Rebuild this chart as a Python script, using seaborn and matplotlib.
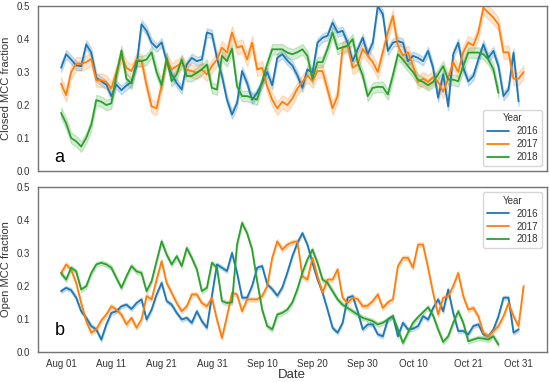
import numpy as np
import pandas as pd
import matplotlib
matplotlib.use("Agg")
import matplotlib.pyplot as plt
import seaborn as sns

nan = np.nan

# one value per day, Aug 01 .. Nov 01 (93 days)
dates = pd.date_range("2018-08-01", "2018-11-01", freq="D")
years = ["2016", "2017", "2018"]

closed_2016 = [
    .313, .354, .338, .320, .318, .384, .359, .283, .272, .262,
    .227, .262, .245, .259, .270, .318, .445, .425, .389, .374,
    .390, .333, .293, .267, .247, .323, .343, .333, .338, .420,
    .415, .343, .288, .216, .171, .206, .303, .267, .216, .237,
    .267, .300, .260, .343, .354, .335, .320, .290, .252, .308,
    .298, .389, .404, .410, .450, .420, .425, .389, .333, .369,
    .404, .354, .389, .500, .476, .364, .389, .394, .389, .333,
    .349, .343, .333, .364, .313, .222, .293, .196, .354, .389,
    .313, .272, .288, .338, .384, .343, .364, .318, .227, .247,
    .359, .211, nan]
closed_2017 = [
    .265, .230, .300, .325, .325, .330, .340, .275, .275, .270,
    .250, .300, .350, .313, .303, .338, .335, .260, .196, .190,
    .260, .338, .308, .318, .328, .308, .303, .298, .308, .293,
    .318, .338, .374, .359, .420, .374, .379, .338, .389, .308,
    .313, .257, .216, .190, .210, .200, .220, .250, .270, .290,
    .272, .303, .303, .247, .190, .227, .374, .379, .313, .323,
    .370, .350, .330, .300, .360, .420, .470, .380, .350, .360,
    .320, .270, .280, .270, .285, .270, .240, .280, .330, .300,
    .360, .390, .380, .420, .495, .480, .465, .445, .360, .360,
    .280, .280, .300]
closed_2018 = [
    .176, .145, .100, .090, .074, .100, .140, .215, .210, .200,
    .205, .290, .365, .280, .265, .333, .333, .338, .360, .300,
    .260, .343, .272, .293, .338, .288, .288, .298, .308, .323,
    .252, .247, .349, .333, .371, .257, .227, .227, .222, .216,
    .272, .323, .369, .369, .369, .359, .354, .360, .369, .349,
    .280, .330, .330, .370, .420, .370, .375, .380, .400, .330,
    .290, .227, .252, .255, .255, .232, .290, .354, .338, .318,
    .300, .277, .270, .260, .270, .293, .318, .277, .277, .272,
    .318, .359, .359, .359, .354, .338, .308, .237, nan, nan,
    nan, nan, nan]

open_2016 = [
    .184, .194, .187, .164, .123, .103, .078, .068, .037, .083,
    .118, .123, .138, .143, .130, .148, .159, .098, .128, .174,
    .209, .154, .143, .118, .098, .103, .088, .123, .093, .073,
    .170, .265, .255, .245, .300, .240, .164, .164, .200, .255,
    .260, .205, .190, .170, .195, .240, .290, .330, .360, .325,
    .270, .220, .180, .128, .073, .058, .088, .164, .169, .123,
    .068, .083, .083, .053, .047, .098, .108, .047, .088, .068,
    .070, .078, .108, .098, .133, .159, .123, .189, .118, .063,
    .063, .053, .078, .083, .053, .047, .068, .108, .164, .164,
    .058, .068, nan]
open_2017 = [
    .239, .265, .249, .209, .148, .093, .058, .068, .095, .113,
    .138, .128, .113, .083, .103, .073, .098, .169, .159, .219,
    .275, .209, .179, .148, .123, .138, .174, .174, .148, .138,
    .164, .098, .042, .108, .179, .174, .123, .159, .159, .159,
    .169, .199, .285, .335, .310, .325, .332, .335, .229, .219,
    .285, .229, .179, .219, .219, .250, .164, .148, .164, .160,
    .138, .140, .154, .174, .133, .150, .159, .260, .285, .285,
    .255, .325, .325, .255, .179, .113, .164, .169, .199, .239,
    .169, .128, .133, .108, .058, .047, .063, .078, .108, .148,
    .108, .078, .199]
open_2018 = [
    .239, .219, .255, .244, .189, .199, .239, .265, .270, .265,
    .255, .224, .194, .229, .260, .244, .239, .184, .214, .275,
    .335, .295, .265, .290, .260, .315, .285, .250, .184, .194,
    .270, .255, .154, .148, .150, .325, .391, .360, .310, .214,
    .128, .078, .068, .113, .118, .128, .150, .190, .240, .280,
    .310, .270, .219, .209, .184, .159, .143, .133, .123, .113,
    .103, .098, .093, .083, .088, .098, .108, .068, .027, .058,
    .088, .105, .120, .135, .110, .068, .030, .047, .088, .123,
    .088, .032, .037, .042, .040, .037, .047, .022, nan, nan,
    nan, nan, nan]

# half width of the shaded confidence band per year
closed_spread = {"2016": 0.013, "2017": 0.02, "2018": 0.016}
open_spread = {"2016": 0.006, "2017": 0.007, "2018": 0.007}

tick_dates = ["2018-08-01", "2018-08-11", "2018-08-21", "2018-08-31", "2018-09-10",
              "2018-09-20", "2018-09-30", "2018-10-10", "2018-10-21", "2018-10-31"]
tick_labels = ["Aug 01", "Aug 11", "Aug 21", "Aug 31", "Sep 10",
               "Sep 20", "Sep 30", "Oct 10", "Oct 21", "Oct 31"]

palette = {"2016": "#1f77b4", "2017": "#ff7f0e", "2018": "#2ca02c"}


def long_frame(series, spread):
    """Two rows per day (mean -/+ spread) so the band comes from the pi errorbar"""
    rows = []
    for year, vals in zip(years, series):
        for d, v in zip(dates, vals):
            if np.isnan(v):
                continue
            rows.append((d, year, v - spread[year]))
            rows.append((d, year, v + spread[year]))
    return pd.DataFrame(rows, columns=["Date", "Year", "frac"])


closed_df = long_frame([closed_2016, closed_2017, closed_2018], closed_spread)
open_df = long_frame([open_2016, open_2017, open_2018], open_spread)

sns.set_style("white")
plt.rcParams["font.family"] = ["Liberation Sans", "DejaVu Sans"]
plt.rcParams["axes.edgecolor"] = "0.45"
plt.rcParams["text.color"] = "0.2"
plt.rcParams["axes.labelcolor"] = "0.2"
plt.rcParams["xtick.color"] = "0.2"
plt.rcParams["ytick.color"] = "0.2"

fig, (ax1, ax2) = plt.subplots(2, 1, figsize=(5.5, 3.82), dpi=100, sharex=True)
fig.subplots_adjust(left=0.069, right=0.994, top=0.984, bottom=0.079, hspace=0.097)

for ax, df, ylabel, letter, loc, ly in [
        (ax1, closed_df, "Closed MCC fraction", "a", "lower right", 0.055),
        (ax2, open_df, "Open MCC fraction", "b", "upper right", 0.10)]:
    sns.lineplot(data=df, x="Date", y="frac", hue="Year", palette=palette,
                 errorbar=("pi", 100), linewidth=1.3, ax=ax)
    ax.set_ylim(0, 0.5)
    ax.set_yticks(np.arange(0, 0.51, 0.1))
    ax.set_yticklabels([f"{t:.1f}" for t in np.arange(0, 0.51, 0.1)])
    ax.set_ylabel(ylabel, fontsize=8, labelpad=4)
    ax.tick_params(axis="y", labelsize=7, pad=2.5)
    ax.tick_params(axis="x", labelsize=7, pad=1.5)
    for s in ax.spines.values():
        s.set_linewidth(1.0)
    ax.text(0.033, ly, letter, transform=ax.transAxes, fontsize=13,
            ha="left", va="baseline", color="black")
    sns.move_legend(ax, loc, title="Year", fontsize=7, title_fontsize=7,
                    frameon=True, borderpad=0.4, labelspacing=0.3,
                    handlelength=2.2)

ax2.set_xticks(pd.to_datetime(tick_dates))
ax2.set_xticklabels(tick_labels)
ax2.set_xlabel("Date", fontsize=9.5, labelpad=0)
ax1.set_xlabel("")

fig.savefig("out.png", dpi=100)
